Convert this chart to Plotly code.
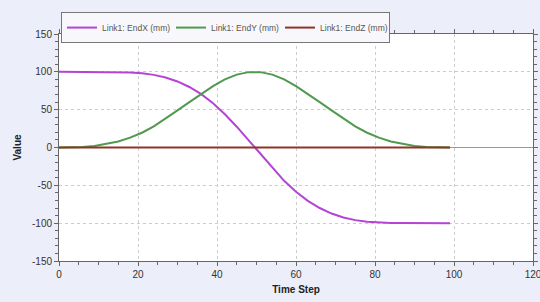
import plotly.graph_objects as go

time_step = [0, 3, 6, 9, 12, 15, 18, 21, 24, 27, 30, 33, 36, 39, 42, 45, 48,
             51, 54, 57, 60, 63, 66, 69, 72, 75, 78, 81, 84, 87, 90, 93, 96, 99]
end_x = [100, 100, 100, 100, 99.9, 99.7, 99.2, 98.2, 96.0, 92.5, 87.3, 80.0, 70.5,
         58.5, 44.0, 27.5, 9.5, -9.5, -27.5, -44.0, -58.5, -70.5, -80.0, -87.3,
         -92.5, -96.0, -98.2, -99.2, -99.7, -99.9, -100, -100, -100, -100]
end_y = [0, 0.1, 0.6, 2.0, 4.6, 8.0, 13.0, 19.5, 28.0, 38.0, 49.0, 60.0, 71.0, 81.0,
         90.0, 96.3, 99.6, 99.6, 96.3, 90.0, 81.0, 71.0, 60.0, 49.0, 38.0, 28.0,
         19.5, 13.0, 8.0, 4.6, 2.0, 0.6, 0.1, 0]
end_z = [0] * len(time_step)

y_ticks = [-150, -100, -50, 0, 50, 100, 150]
y_tick_text = ["-150", "-100", "-50", "0", "50", "100", "150"]
x_ticks = [0, 20, 40, 60, 80, 100, 120]
x_tick_text = ["0", "20", "40", "60", "80", "100", "120"]

series_names = ["Link1: EndX (mm)", "Link1: EndY (mm)", "Link1: EndZ (mm)"]
series_colors = ["#b444d4", "#4f9a4f", "#8e3428"]

fig = go.Figure()
for name, vals, col in zip(series_names, [end_x, end_y, end_z], series_colors):
    fig.add_trace(go.Scatter(x=time_step, y=vals, mode="lines", name=name,
                             line=dict(color=col, width=2)))

FONT = "Liberation Sans, Arial, sans-serif"
fig.update_layout(
    width=540, height=302,
    margin=dict(l=59, r=7, t=34, b=41, autoexpand=False),
    paper_bgcolor="#eceef9",
    plot_bgcolor="#ffffff",
    font=dict(family=FONT, size=10, color="#333333"),
    showlegend=True,
    legend=dict(orientation="h", xref="container", yref="container",
                x=0.113, y=0.96, xanchor="left", yanchor="top",
                bgcolor="#f8f8fc", bordercolor="#777777", borderwidth=1,
                font=dict(family=FONT, size=8.5, color="#555555"),
                itemwidth=30, tracegroupgap=0, entrywidth=64, valign="middle"),
    xaxis=dict(range=[0, 120], tickvals=x_ticks, ticktext=x_tick_text, automargin=False,
               ticklabeloverflow="allow",
               showline=True, linecolor="#666666", linewidth=1, mirror="ticks",
               ticks="outside", ticklen=4, tickcolor="#666666",
               minor=dict(dtick=5, tick0=0, ticks="outside", ticklen=3, tickcolor="#666666"),
               showgrid=True, gridcolor="#cccccc", griddash="dot", gridwidth=1,
               zeroline=False,
               title=dict(text="<b>Time Step</b>", standoff=6,
                          font=dict(family=FONT, size=10, color="#222222"))),
    yaxis=dict(range=[-150, 150], tickvals=y_ticks, ticktext=y_tick_text, automargin=False,
               showline=True, linecolor="#666666", linewidth=1, mirror="ticks",
               ticks="outside", ticklen=4, tickcolor="#666666",
               minor=dict(dtick=10, tick0=0, ticks="outside", ticklen=3, tickcolor="#666666"),
               showgrid=True, gridcolor="#cccccc", griddash="dot", gridwidth=1,
               zeroline=True, zerolinecolor="#999999", zerolinewidth=1,
               title=dict(text="<b>Value</b>", standoff=8,
                          font=dict(family=FONT, size=10, color="#222222"))),
)

fig.write_html("out.html", config={"displayModeBar": False},
               post_script="document.body.style.margin='0';document.body.style.background='#eceef9';")
